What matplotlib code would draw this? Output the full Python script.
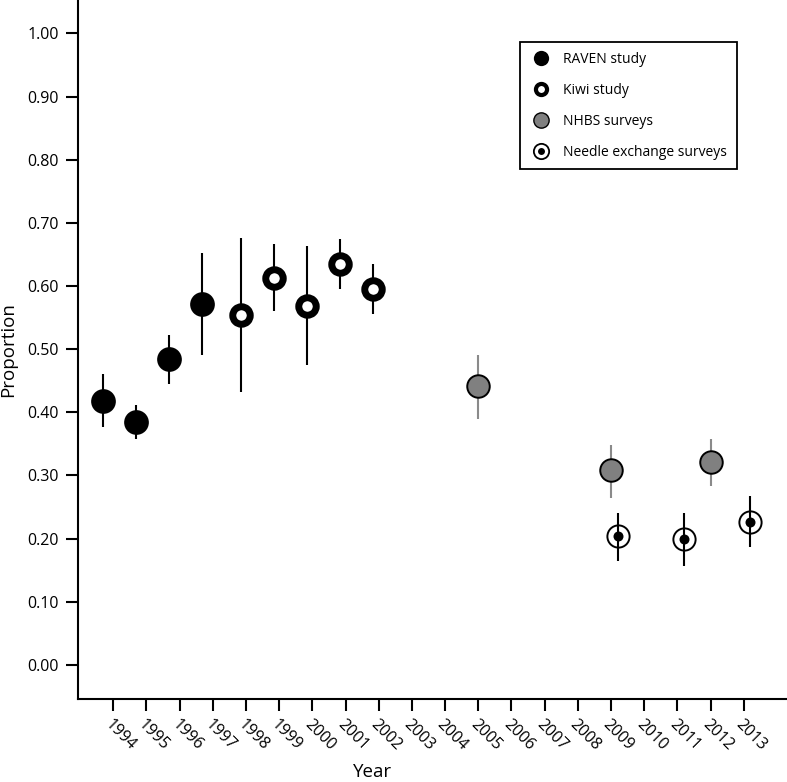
import matplotlib
matplotlib.use('Agg')
import matplotlib.pyplot as plt
from matplotlib.lines import Line2D

plt.rcParams['font.family'] = ['Open Sans', 'DejaVu Sans']

# tick categories
all_years = list(range(1994, 2014))

# RAVEN study
raven_years = [1994, 1995, 1996, 1997]
raven_p = [0.418, 0.384, 0.484, 0.572]
raven_lo = [0.376, 0.358, 0.445, 0.490]
raven_hi = [0.460, 0.411, 0.523, 0.652]

# Kiwi study
kiwi_years = [1998, 1999, 2000, 2001, 2002]
kiwi_p = [0.554, 0.613, 0.569, 0.635, 0.595]
kiwi_lo = [0.432, 0.560, 0.475, 0.595, 0.555]
kiwi_hi = [0.676, 0.667, 0.664, 0.675, 0.635]

# NHBS surveys
nhbs_years = [2005, 2009, 2012]
nhbs_p = [0.441, 0.308, 0.321]
nhbs_lo = [0.389, 0.265, 0.283]
nhbs_hi = [0.491, 0.349, 0.358]

# Needle exchange surveys
nes_years = [2009, 2011, 2013]
nes_p = [0.204, 0.199, 0.227]
nes_lo = [0.164, 0.157, 0.186]
nes_hi = [0.241, 0.241, 0.267]


def xpos(years, shift):
    return [all_years.index(y) + shift for y in years]


def errs(p, lo, hi):
    return [[a - b for a, b in zip(p, lo)], [b - a for a, b in zip(p, hi)]]


fig = plt.figure(figsize=(7.87, 7.82), dpi=100)
ax = fig.add_axes([78 / 787, 83 / 782, 1 - 78 / 787, 1 - 83 / 782])

# RAVEN
x = xpos(raven_years, -0.32)
ax.errorbar(x, raven_p, yerr=errs(raven_p, raven_lo, raven_hi), fmt='none',
            ecolor='black', elinewidth=1.5, zorder=2)
ax.plot(x, raven_p, 'o', ms=17.8, mfc='black', mec='black', mew=0, zorder=3)

# Kiwi
x = xpos(kiwi_years, -0.16)
ax.errorbar(x, kiwi_p, yerr=errs(kiwi_p, kiwi_lo, kiwi_hi), fmt='none',
            ecolor='black', elinewidth=1.5, zorder=2)
ax.plot(x, kiwi_p, 'o', ms=12.6, mfc='white', mec='black', mew=5.0, zorder=3)

# NHBS
x = xpos(nhbs_years, 0.0)
ax.errorbar(x, nhbs_p, yerr=errs(nhbs_p, nhbs_lo, nhbs_hi), fmt='none',
            ecolor='#8a8a8a', elinewidth=1.5, zorder=2)
ax.plot(x, nhbs_p, 'o', ms=16.2, mfc='#808080', mec='black', mew=1.4, zorder=3)

# Needle exchange
x = xpos(nes_years, 0.2)
ax.plot(x, nes_p, 'o', ms=16.0, mfc='white', mec='black', mew=1.4, zorder=2)
ax.errorbar(x, nes_p, yerr=errs(nes_p, nes_lo, nes_hi), fmt='none',
            ecolor='black', elinewidth=1.5, zorder=3)
ax.plot(x, nes_p, 'o', ms=7.2, mfc='black', mec='black', mew=0, zorder=4)

ax.set_xlim(-1.06, 20.3)
ax.set_ylim(-0.054, 1.053)
ax.set_xticks(range(len(all_years)))
ax.set_xticklabels([str(y) for y in all_years], rotation=-45, ha='left',
                   va='top', rotation_mode='anchor', fontsize=11.5)
ax.set_yticks([i / 10 for i in range(11)])
ax.set_yticklabels(['%.2f' % (i / 10) for i in range(11)], fontsize=11.5)

for s in ['top', 'right']:
    ax.spines[s].set_visible(False)
for s in ['left', 'bottom']:
    ax.spines[s].set_linewidth(1.5)
ax.tick_params(axis='both', width=1.5, length=8.5, direction='out')
ax.tick_params(axis='x', pad=4)
ax.tick_params(axis='y', pad=5)

ax.set_ylabel('Proportion', fontsize=13.5)
ax.yaxis.set_label_coords(-0.086, 0.5)
ax.set_xlabel('Year', fontsize=13.5)
ax.xaxis.set_label_coords(0.416, -0.092)

h_raven = Line2D([], [], ls='none', marker='o', ms=11, mfc='black', mec='black', mew=0)
h_kiwi = Line2D([], [], ls='none', marker='o', ms=8, mfc='white', mec='black', mew=3)
h_nhbs = Line2D([], [], ls='none', marker='o', ms=11, mfc='#808080', mec='black', mew=1)
h_ring = Line2D([], [], ls='none', marker='o', ms=11, mfc='white', mec='black', mew=1.3)
h_dot = Line2D([], [], ls='none', marker='o', ms=5, mfc='black', mec='black', mew=0)

leg = ax.legend([h_raven, h_kiwi, h_nhbs, (h_ring, h_dot)],
                ['RAVEN study', 'Kiwi study', 'NHBS surveys', 'Needle exchange surveys'],
                loc='upper right', bbox_to_anchor=(0.9295, 0.94), borderaxespad=0,
                fontsize=10, frameon=True, fancybox=False, edgecolor='black',
                framealpha=1, borderpad=0.7, labelspacing=1.15, handletextpad=0.9,
                handlelength=1.5)
leg.get_frame().set_linewidth(1.3)

fig.savefig('out.png', dpi=100)
